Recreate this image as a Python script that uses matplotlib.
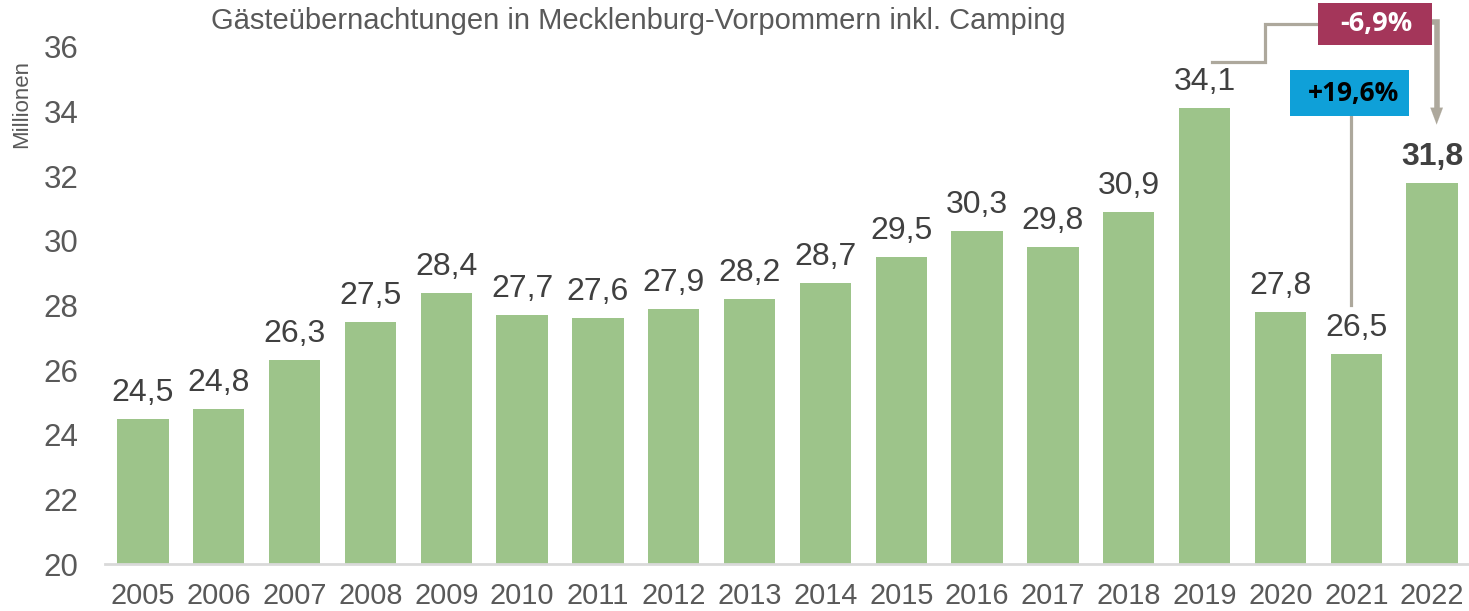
import matplotlib
matplotlib.use("Agg")
import matplotlib.pyplot as plt
from matplotlib.patches import Rectangle

years = ["2005", "2006", "2007", "2008", "2009", "2010", "2011", "2012", "2013",
         "2014", "2015", "2016", "2017", "2018", "2019", "2020", "2021", "2022"]
values = [24.5, 24.8, 26.3, 27.5, 28.4, 27.7, 27.6, 27.9, 28.2,
          28.7, 29.5, 30.3, 29.8, 30.9, 34.1, 27.8, 26.5, 31.8]
value_labels = ["24,5", "24,8", "26,3", "27,5", "28,4", "27,7", "27,6", "27,9", "28,2",
                "28,7", "29,5", "30,3", "29,8", "30,9", "34,1", "27,8", "26,5", "31,8"]
yticks = [20, 22, 24, 26, 28, 30, 32, 34, 36]
title = "Gästeübernachtungen in Mecklenburg-Vorpommern inkl. Camping"
ylabel = "Millionen"
change_2019_2022 = "-6,9%"
change_2021_2022 = "+19,6%"

plt.rcParams['font.family'] = ['Liberation Sans', 'DejaVu Sans']

BAR = "#9DC48A"
TXT = "#404040"
TICK = "#595959"
LINE = "#ADA89C"
RED = "#A4365A"
BLUE = "#0FA0D8"

fig = plt.figure(figsize=(14.69, 6.11), dpi=100)
ax = fig.add_axes([105/1469, 47/611, 1365/1469, 517/611])

x = list(range(len(years)))
ax.bar(x, values, width=0.675, color=BAR, zorder=2)
ax.set_xlim(-0.5, len(years) - 0.5)
ax.set_ylim(20, 36)
ax.set_yticks(yticks)
ax.set_yticklabels([str(t) for t in yticks])
ax.set_xticks(x)
ax.set_xticklabels(years)
ax.tick_params(axis='y', length=0, pad=19, labelsize=22.5, labelcolor=TICK)
ax.tick_params(axis='x', length=0, pad=13, labelsize=20.8, labelcolor=TICK)
for s in ["top", "right", "left"]:
    ax.spines[s].set_visible(False)
ax.spines["bottom"].set_color("#D9D9D9")
ax.spines["bottom"].set_linewidth(2)

for i, (v, lab) in enumerate(zip(values, value_labels)):
    bold = (i == len(values) - 1)
    ax.annotate(lab, (i, v), xytext=(0, 13), textcoords="offset points",
                ha="center", va="baseline", fontsize=23, color=TXT,
                fontweight="bold" if bold else "normal", clip_on=False)

fig.text(638/1469, 1 - 21/611, title, ha="center", va="center", fontsize=21, color=TICK)
fig.text(22/1469, 1 - 104/611, ylabel, ha="center", va="center", rotation=90,
         fontsize=16, color=TICK)

i19 = years.index("2019")
i21 = years.index("2021")
i22 = years.index("2022")

# -6,9% annotation (2019 -> 2022)
ax.plot([i19 + 0.10, i19 + 0.80, i19 + 0.80, i19 + 1.49],
        [35.53, 35.53, 36.71, 36.71], color=LINE, lw=2.3, clip_on=False,
        solid_joinstyle="miter", zorder=3)
ax.add_patch(Rectangle((i19 + 1.49, 36.06), 1.51, 1.30, facecolor=RED,
                       edgecolor="none", clip_on=False, zorder=4))
ax.text(i19 + 2.26, 36.71, change_2019_2022, ha="center", va="center",
        fontsize=19.5, fontweight="bold", color="white", family=["Open Sans", "DejaVu Sans"],
        clip_on=False, zorder=5)
ax.plot([i22, i22 + 0.06, i22 + 0.06], [36.78, 36.78, 34.1],
        color=LINE, lw=4, clip_on=False, solid_joinstyle="miter", zorder=3)
ax.annotate("", xy=(i22 + 0.06, 33.6), xytext=(i22 + 0.06, 34.3),
            arrowprops=dict(arrowstyle="-|>,head_length=1.2,head_width=0.45",
                            color=LINE, lw=0.1, shrinkA=0, shrinkB=0),
            annotation_clip=False, zorder=3)

# +19,6% annotation (2021 -> 2022)
ax.plot([i21 - 0.07, i21 - 0.07], [33.86, 28.03], color=LINE, lw=2.3, clip_on=False, zorder=3)
ax.add_patch(Rectangle((i21 - 0.88, 33.86), 1.57, 1.43, facecolor=BLUE,
                       edgecolor="none", clip_on=False, zorder=4))
ax.text(i21 - 0.04, 34.57, change_2021_2022, ha="center", va="center",
        fontsize=19, fontweight="bold", color="black", family=["Open Sans", "DejaVu Sans"],
        clip_on=False, zorder=5)

fig.savefig("out.png", dpi=100)
